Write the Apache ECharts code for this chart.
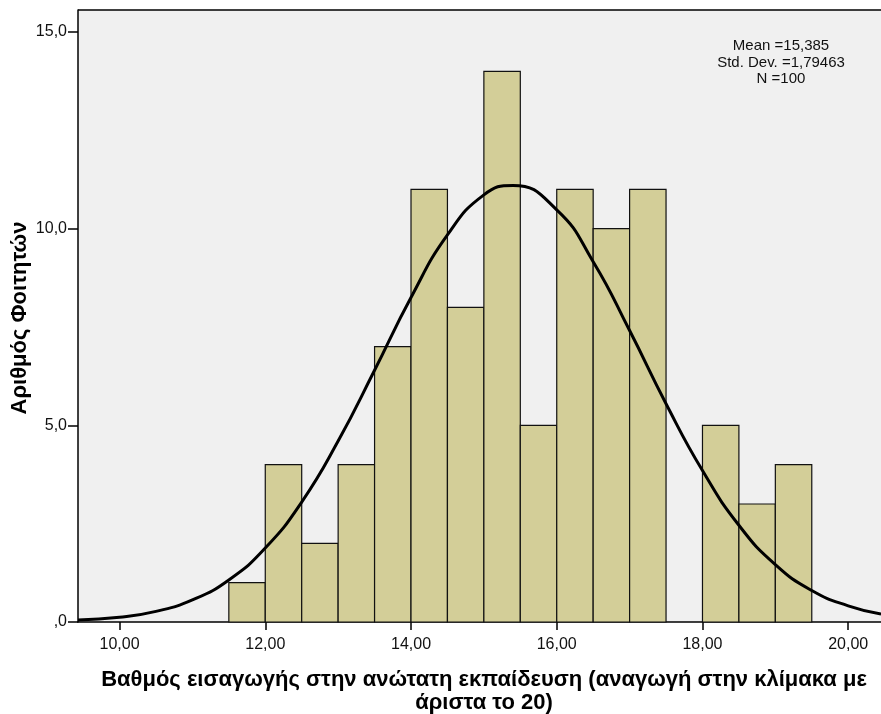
<!DOCTYPE html>
<html>
<head>
<meta charset="utf-8">
<script src="https://cdn.jsdelivr.net/npm/echarts@6/dist/echarts.min.js"></script>
<style>
  html, body { margin: 0; padding: 0; background: #fff; }
  #chart { width: 881px; height: 714px; }
</style>
</head>
<body>
<div id="chart"></div>
<script>
// histogram bins (lower edge, upper edge) and counts
var binStart = [11.5, 12, 12.5, 13, 13.5, 14, 14.5, 15, 15.5, 16, 16.5, 17, 17.5, 18, 18.5, 19];
var binEnd   = [12, 12.5, 13, 13.5, 14, 14.5, 15, 15.5, 16, 16.5, 17, 17.5, 18, 18.5, 19, 19.5];
var counts   = [1, 4, 2, 4, 7, 11, 8, 14, 5, 11, 10, 11, 0, 5, 3, 4];

// normal curve
var curveX = [9.43, 10, 10.5, 11, 11.5, 12, 12.5, 13, 13.5, 14, 14.5, 15, 15.4, 16, 16.5, 17, 17.5, 18, 18.5, 19, 19.5, 20, 20.45];
var curveY = [0.05, 0.12, 0.27, 0.56, 1.07, 1.88, 3.05, 4.6, 6.4, 8.25, 9.84, 10.86, 11.1, 10.48, 9.16, 7.41, 5.55, 3.85, 2.46, 1.46, 0.8, 0.41, 0.2];

var xTicks = [10, 12, 14, 16, 18, 20];
var yTicks = [0, 5, 10, 15];
var statsLines = ['Mean =15,385', 'Std. Dev. =1,79463', 'N =100'];

var xTitle = 'Βαθμός εισαγωγής στην ανώτατη εκπαίδευση (αναγωγή στην κλίμακα με\nάριστα το 20)';
var yTitle = 'Αριθμός Φοιτητών';

var chart = echarts.init(document.getElementById('chart'));

var bars = [];
for (var i = 0; i < counts.length; i++) {
    if (counts[i] > 0) bars.push([binStart[i], binEnd[i], counts[i]]);
}
var curve = [];
for (var j = 0; j < curveX.length; j++) curve.push([curveX[j], curveY[j]]);

var font = '"Liberation Sans", Arial, sans-serif';

var option = {
    animation: false,
    backgroundColor: '#fff',
    grid: { left: 78, top: 10, right: 0, bottom: 92, show: true, backgroundColor: '#f0f0f0', borderColor: '#000', borderWidth: 0 },
    xAxis: {
        type: 'value', min: 9.43, max: 20.45,
        axisLine: { show: true, onZero: false, lineStyle: { color: '#000', width: 1.5 } },
        axisTick: { show: true, length: 8, customValues: xTicks, lineStyle: { color: '#000', width: 1.5 } },
        axisLabel: {
            customValues: xTicks, margin: 15, color: '#111', fontFamily: font, fontSize: 16,
            formatter: function (v) { return v.toFixed(2).replace('.', ','); }
        },
        splitLine: { show: false }
    },
    yAxis: {
        type: 'value', min: 0, max: 15.56,
        axisLine: { show: true, lineStyle: { color: '#000', width: 1.5 } },
        axisTick: { show: true, length: 10, customValues: yTicks, lineStyle: { color: '#000', width: 1.5 } },
        axisLabel: {
            customValues: yTicks, margin: 11, color: '#111', fontFamily: font, fontSize: 16,
            formatter: function (v) { return v === 0 ? ',0' : v.toFixed(1).replace('.', ','); }
        },
        splitLine: { show: false }
    },
    graphic: [
        { type: 'line', shape: { x1: 78, y1: 10, x2: 881, y2: 10 }, style: { stroke: '#000', lineWidth: 1.5 }, z: 10 },
        {
            type: 'text', x: 781, y: 38,
            style: { text: statsLines.join('\n'), font: '15px ' + font, fill: '#111', align: 'center', verticalAlign: 'top', lineHeight: 16.5 }
        },
        {
            type: 'text', x: 484, y: 668,
            style: { text: xTitle, font: 'bold 22px ' + font, fill: '#000', align: 'center', verticalAlign: 'top', lineHeight: 23 }
        },
        {
            type: 'text', x: 20, y: 318, rotation: Math.PI / 2,
            style: { text: yTitle, font: 'bold 22px ' + font, fill: '#000', align: 'center', verticalAlign: 'middle' }
        }
    ],
    series: [
        {
            type: 'custom',
            data: bars,
            renderItem: function (params, api) {
                var p0 = api.coord([api.value(0), api.value(2)]);
                var p1 = api.coord([api.value(1), 0]);
                return {
                    type: 'rect',
                    shape: { x: p0[0], y: p0[1], width: p1[0] - p0[0], height: p1[1] - p0[1] },
                    style: { fill: '#d3ce98', stroke: '#111', lineWidth: 1.2 }
                };
            },
            z: 2
        },
        {
            type: 'line',
            data: curve,
            smooth: true,
            showSymbol: false,
            lineStyle: { color: '#000', width: 3 },
            z: 3
        }
    ]
};

chart.setOption(option);
</script>
</body>
</html>
